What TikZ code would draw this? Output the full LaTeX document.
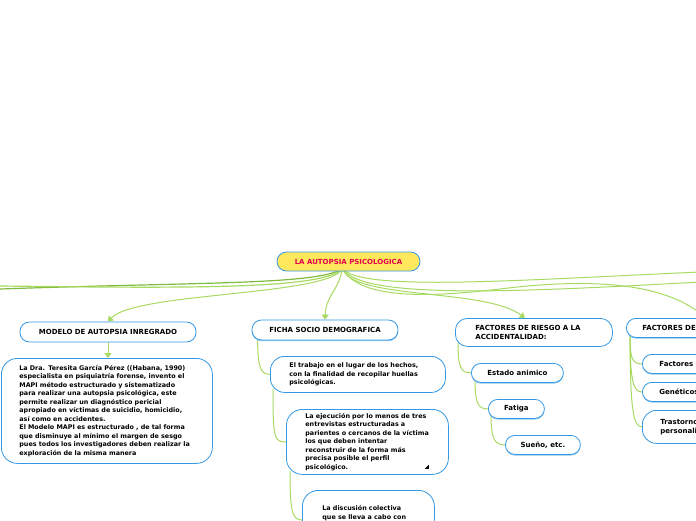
\documentclass[tikz,border=0pt]{standalone}
\usepackage{fontspec}
\setmainfont{DejaVu Sans}
\usetikzlibrary{arrows.meta, calc, backgrounds, shadows}
\definecolor{mapblue}{RGB}{52,152,228}
\definecolor{mapshade}{RGB}{140,200,240}
\definecolor{mapgreen}{RGB}{168,218,98}
\definecolor{mapdark}{RGB}{128,186,62}
\definecolor{rootfill}{RGB}{255,232,92}
\definecolor{roottext}{RGB}{228,0,80}

\tikzset{
  topic/.style={draw=mapblue, fill=white, line width=0.8pt, rounded corners=9.5pt,
    inner sep=0pt, font=\bfseries\fontsize{7}{8.6}\selectfont},
  lifted/.style={drop shadow={shadow xshift=0pt, shadow yshift=-1.2pt, fill=mapshade, opacity=1}},
  note/.style={topic, rounded corners=16pt, align=left, font=\bfseries\fontsize{6.4}{8.5}\selectfont},
  link/.style={draw=mapgreen, line width=1pt},
  arrowtip/.style={-{Triangle[width=7pt,length=5pt]}},
}

\begin{document}
\begin{tikzpicture}[x=1pt, y=-1pt]
\useasboundingbox (0,0) rectangle (696,520);

% === root ===
\node[topic, fill=rootfill, text=roottext, minimum width=143pt, minimum height=19pt] (root) at (348.5,261.5) {LA AUTOPSIA PSICOLOGICA};

% === modelo ===
\node[topic, minimum width=176pt, minimum height=20pt] (modelo) at (108,332) {MODELO DE AUTOPSIA INREGRADO};
\node[note, anchor=north west, text width=175pt, inner xsep=18pt, minimum height=105pt] (mapi) at (1,358) {
  La Dra. Teresita García Pérez ((Habana, 1990)\\
  especialista en psiquiatría forense, invento el\\
  MAPI método estructurado y sistematizado\\
  para realizar una autopsia psicológica, este\\
  permite realizar un diagnóstico pericial\\
  apropiado en víctimas de suicidio, homicidio,\\
  así como en accidentes.\\
  El Modelo MAPI es estructurado , de tal forma\\
  que disminuye al mínimo el margen de sesgo\\
  pues todos los investigadores deben realizar la\\
  exploración de la misma manera};

% === ficha ===
\node[topic, lifted, minimum width=146pt, minimum height=20pt] (ficha) at (325,330) {FICHA SOCIO DEMOGRAFICA};
\node[note, rounded corners=14pt, anchor=north west, text width=137pt, inner xsep=19pt, minimum height=36pt] (trabajo) at (270,356) {
  El trabajo en el lugar de los hechos,\\
  con la finalidad de recopilar huellas\\
  psicológicas.};
\node[note, anchor=north west, text width=124pt, inner xsep=19pt, minimum height=65pt] (entrevistas) at (286,409) {
  La ejecución por lo menos de tres\\
  entrevistas estructuradas a\\
  parientes o cercanos de la víctima\\
  los que deben intentar\\
  reconstruir de la forma más\\
  precisa posible el perfil\\
  psicológico.};
\fill ($(entrevistas.south east)+(-24,-6)$) -- ++(4,0) -- ++(0,-4) -- cycle;
\node[note, anchor=north west, text width=92pt, inner xsep=20pt, inner ysep=15pt] (discusion) at (302,490) {
  La discusión colectiva\\
  que se lleva a cabo con};

% === riesgo ===
\node[topic, rounded corners=12pt, align=left, anchor=north west, text width=117pt, inner xsep=20pt, minimum height=28pt] (riesgo) at (455,318) {
  FACTORES DE RIESGO A LA\\
  ACCIDENTALIDAD:};
\node[topic, lifted, anchor=north west, minimum width=92pt, minimum height=19pt] (estado) at (471,363) {Estado animico};
\node[topic, lifted, anchor=north west, minimum width=56pt, minimum height=19pt] (fatiga) at (488,399) {Fatiga};
\node[topic, lifted, anchor=north west, minimum width=75pt, minimum height=19pt] (sueno) at (505,435) {Sueño, etc.};

% === otros factores ===
\node[topic, lifted, align=left, anchor=north west, text width=100pt, inner xsep=16pt, minimum height=19pt] (otros) at (626,318) {FACTORES DE};
\node[topic, lifted, align=left, anchor=north west, text width=80pt, inner xsep=17pt, minimum height=19pt] (sociales) at (642,354) {Factores s};
\node[topic, lifted, align=left, anchor=north west, text width=80pt, inner xsep=17pt, minimum height=19pt] (geneticos) at (642,382) {Genéticos};
\node[topic, rounded corners=14pt, align=left, anchor=north west, text width=80pt, inner xsep=18pt, minimum height=33pt] (trastornos) at (642,410) {
  Trastorno\\
  personali};

% === connectors ===
\begin{scope}[on background layer]
\coordinate (hub) at ($(root.south)+(-6,-3)$);
\coordinate (edgeL1) at (0,289);
\coordinate (edgeL2) at (0,286);
\coordinate (edgeR1) at (700,272);
\coordinate (edgeR2) at (700,282);
\coordinate (otrosIn) at ($(otros.north west)+(80,0)$);
\coordinate (discIn) at ($(discusion.north west)+(0,30)$);

\draw[link, draw=mapdark, line width=1.2pt] (hub) .. controls (320,285) and (200,282) .. (edgeL1);
\draw[link, line width=1.2pt] (hub) .. controls (325,290) and (180,288) .. (edgeL2);
\draw[link] (hub) .. controls (360,292) and (520,280) .. (edgeR1);
\draw[link] (hub) .. controls (360,300) and (520,292) .. (edgeR2);
\draw[link, arrowtip] (hub) .. controls (330,296) and (135,292) .. (modelo.north);
\draw[link, arrowtip] (hub) .. controls (338,292) and (326,295) .. (ficha.north);
\draw[link, arrowtip] (hub) .. controls (352,300) and (485,288) .. ($(riesgo.north)+(-9,0)$);
\draw[link, arrowtip] (hub) .. controls (360,302) and (440,296) .. (500,289)
  .. controls (580,279) and (660,280) .. (otrosIn);
\draw[link, arrowtip] (modelo.south) -- (modelo.south |- mapi.north);

\draw[link] ($(ficha.south west)+(6,-4)$) .. controls +(0,30) and +(-10,0) .. (trabajo.west);
\draw[link] ($(trabajo.south west)+(3,-4)$) .. controls +(0,50) and +(-12,0) .. (entrevistas.west);
\draw[link] ($(entrevistas.south west)+(4,-4)$) .. controls +(0,40) and +(-10,0) .. (discIn);

\draw[link] ($(riesgo.south west)+(3,-4)$) .. controls +(0,25) and +(-10,0) .. (estado.west);
\draw[link] ($(estado.south west)+(4,-4)$) .. controls +(0,25) and +(-10,0) .. (fatiga.west);
\draw[link] ($(fatiga.south west)+(3,-4)$) .. controls +(0,25) and +(-10,0) .. (sueno.west);

\draw[link] ($(otros.south west)+(4,-4)$) .. controls +(0,25) and +(-10,0) .. (sociales.west);
\draw[link] ($(otros.south west)+(4,-4)$) .. controls +(0,50) and +(-8,0) .. (geneticos.west);
\draw[link] ($(otros.south west)+(4,-4)$) .. controls +(0,80) and +(-8,0) .. (trastornos.west);
\end{scope}

\end{tikzpicture}
\end{document}
